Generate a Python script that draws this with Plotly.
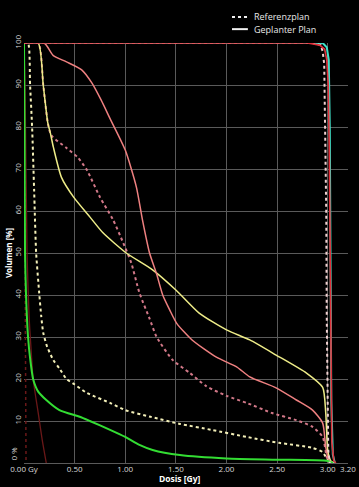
import plotly.graph_objects as go

# ---- data (dose in Gy, volume in %) ----
green_dose = [0, 0.005, 0.01, 0.02, 0.04, 0.06, 0.09, 0.14, 0.22, 0.35, 0.55, 0.65, 0.85, 1.0, 1.14, 1.27, 1.54, 2.0, 2.5, 3.0, 3.05]
green_vol = [100, 80, 50, 40, 30, 25, 20, 17, 15, 12.6, 11, 10, 7.9, 6.2, 4.3, 3.1, 1.9, 1.1, 0.8, 0.5, 0]

darkred_dose = [0, 0.01, 0.03, 0.05, 0.07, 0.09, 0.14, 0.18, 0.22]
darkred_vol = [100, 90, 50, 35, 27, 20, 12, 5.5, 0]
darkred_ref_dose = [0, 0.01, 0.015, 0.02]
darkred_ref_vol = [100, 50, 10, 0]

yellow_ref_dose = [0, 0.04, 0.06, 0.08, 0.10, 0.12, 0.15, 0.17, 0.19, 0.23, 0.29, 0.35, 0.42, 0.5, 0.62, 0.85, 1.0, 1.25, 1.54, 1.85, 2.2, 2.52, 2.85, 2.95, 3.0, 3.05]
yellow_ref_vol = [100, 100, 90, 80, 65, 50, 40.5, 35, 31, 27.6, 24.5, 22.5, 20, 18.7, 16.7, 14.3, 12.6, 11, 9.3, 7.9, 6.2, 4.8, 3.6, 2.6, 0.7, 0]

yellow_dose = [0, 0.14, 0.19, 0.235, 0.26, 0.29, 0.37, 0.49, 0.65, 0.78, 1.01, 1.27, 1.5, 1.73, 2.0, 2.23, 2.49, 2.79, 2.95, 2.98, 3.0, 3.03, 3.06]
yellow_vol = [100, 100, 90, 81, 78.6, 75.2, 68, 63.3, 58.6, 54.8, 50, 46, 41.2, 35.7, 31.7, 29.3, 25.7, 21.4, 18, 12, 3, 0.5, 0]

pink_dose = [0, 0.2, 0.29, 0.42, 0.57, 0.67, 0.76, 0.85, 1.0, 1.11, 1.17, 1.24, 1.31, 1.37, 1.44, 1.51, 1.66, 1.9, 2.1, 2.23, 2.49, 2.69, 2.85, 2.95, 2.98, 3.01, 3.04]
pink_vol = [100, 100, 97, 95.5, 93.6, 90.5, 86.5, 82, 74.5, 65.7, 57.9, 50, 45, 40, 36.4, 33.2, 29.3, 25.2, 22.9, 20.5, 17.9, 15, 12.6, 9.5, 3.8, 0.7, 0]

pink_ref_dose = [0, 0.14, 0.19, 0.235, 0.27, 0.42, 0.53, 0.62, 0.75, 0.88, 0.98, 1.06, 1.14, 1.24, 1.31, 1.47, 1.64, 1.8, 2.0, 2.2, 2.45, 2.69, 2.85, 2.95, 2.99, 3.02]
pink_ref_vol = [100, 100, 90, 81, 78, 75, 72.8, 69.8, 63.3, 57.9, 52.4, 47.6, 40.5, 34.4, 30, 24.5, 21.4, 18.3, 16, 14.3, 11.9, 10.2, 8.6, 6.2, 1.4, 0]

cyan_dose = [0, 2.95, 2.99, 3.01, 3.02, 3.025, 3.035, 3.05, 3.07]
cyan_vol = [100, 100, 99, 96, 80, 50, 15, 2, 0]

ptv_ref_dose = [0, 2.85, 2.93, 2.95, 2.965, 2.975, 2.985, 2.99, 2.995, 3.005, 3.02]
ptv_ref_vol = [100, 100, 99.5, 98, 95, 80, 60, 35, 15, 3, 0]

red_dose = [0, 2.8, 2.92, 2.97, 2.99, 3.005, 3.015, 3.022, 3.03, 3.04, 3.06, 3.08]
red_vol = [100, 100, 99.5, 98.5, 96, 90, 75, 55, 20, 5, 0.5, 0]

x_tickvals = [0, 0.5, 1.0, 1.5, 2.0, 2.5, 3.0, 3.2]
x_ticktext = ["0.00 Gy", "0.50", "1.00", "1.50", "2.00", "2.50", "3.00", "3.20"]
y_tickvals = [10, 20, 30, 40, 50, 60, 70, 80, 90, 100]
y_ticktext = [str(v) for v in y_tickvals]

legend_labels = ["Referenzplan", "Geplanter Plan"]

FONT = "Segoe UI, Open Sans, Noto Sans, sans-serif"

fig = go.Figure()

def add(x, y, color, dash="solid", width=1.5, smooth=True):
    fig.add_trace(go.Scatter(x=x, y=y, mode="lines",
                             line=dict(color=color, width=width, dash=dash,
                                       shape="spline" if smooth else "linear", smoothing=0.6),
                             showlegend=False, hoverinfo="skip"))

add(darkred_ref_dose, darkred_ref_vol, "#6a1818", dash="dot", width=1.5, smooth=False)
add(darkred_dose, darkred_vol, "#6a1818", width=1.3)
add(yellow_ref_dose, yellow_ref_vol, "#f3efb8", dash="dot", width=2)
add(pink_ref_dose, pink_ref_vol, "#d27888", dash="dot", width=2)
add(yellow_dose, yellow_vol, "#eeec88", width=1.5)
add(pink_dose, pink_vol, "#ee8080", width=1.5)
add(green_dose, green_vol, "#33dd33", width=2)
add(cyan_dose, cyan_vol, "#40e0c8", width=2, smooth=False)
add(ptv_ref_dose, ptv_ref_vol, "#f0d0d0", dash="dot", width=2, smooth=False)
add(red_dose, red_vol, "#e0303a", width=1.6, smooth=False)

# legend (drawn as decoration in paper coordinates)
leg_y = [1.062, 1.033]
leg_dash = ["dot", "solid"]
shapes = []
annotations = []
for lbl, yy, dsh in zip(legend_labels, leg_y, leg_dash):
    shapes.append(dict(type="line", xref="paper", yref="paper", x0=0.642, x1=0.691, y0=yy, y1=yy,
                       line=dict(color="#f0f0f0", width=2, dash=dsh)))
    annotations.append(dict(text=lbl, xref="paper", yref="paper", x=0.705, y=yy, xanchor="left",
                            yanchor="middle", showarrow=False,
                            font=dict(size=9, color="#e8e8e8", family=FONT)))

annotations += [
    dict(text="Dosis [Gy]", xref="paper", yref="paper", x=0.48, y=-0.038, xanchor="center",
         yanchor="middle", showarrow=False, font=dict(size=8.5, color="white", family=FONT, weight="bold")),
    dict(text="Volumen [%]", xref="paper", yref="paper", x=-0.049, y=0.5, xanchor="center",
         yanchor="middle", textangle=-90, showarrow=False,
         font=dict(size=8, color="white", family=FONT, weight="bold")),
    dict(text="0 %", xref="paper", yref="y", x=-0.012, y=0, xanchor="right", yanchor="bottom",
         textangle=-90, showarrow=False, font=dict(size=8, color="#d8d8d8", family=FONT)),
]

fig.update_layout(
    width=359, height=487,
    margin=dict(l=24, r=11, t=43, b=24, autoexpand=False),
    paper_bgcolor="black", plot_bgcolor="black",
    font=dict(family=FONT, color="#d8d8d8", size=8.5),
    showlegend=False,
    xaxis=dict(range=[0, 3.2], tickvals=x_tickvals, ticktext=x_ticktext, showgrid=True,
               gridcolor="#5a5a5a", gridwidth=1, zeroline=False, showline=False, ticks="",
               tickfont=dict(size=8, color="#d8d8d8"), automargin=False),
    yaxis=dict(range=[0, 100], tickvals=y_tickvals, ticktext=y_ticktext, showgrid=True,
               gridcolor="#5a5a5a", gridwidth=1, zeroline=True, zerolinecolor="#5a5a5a",
               zerolinewidth=1, showline=False, ticks="", tickangle=-90, automargin=False,
               tickfont=dict(size=8, color="#d8d8d8")),
    shapes=shapes,
    annotations=annotations,
)

fig.write_html("out.html", config={"displayModeBar": False},
               post_script="document.body.style.margin='0';document.body.style.background='black';document.body.style.overflow='hidden';")
